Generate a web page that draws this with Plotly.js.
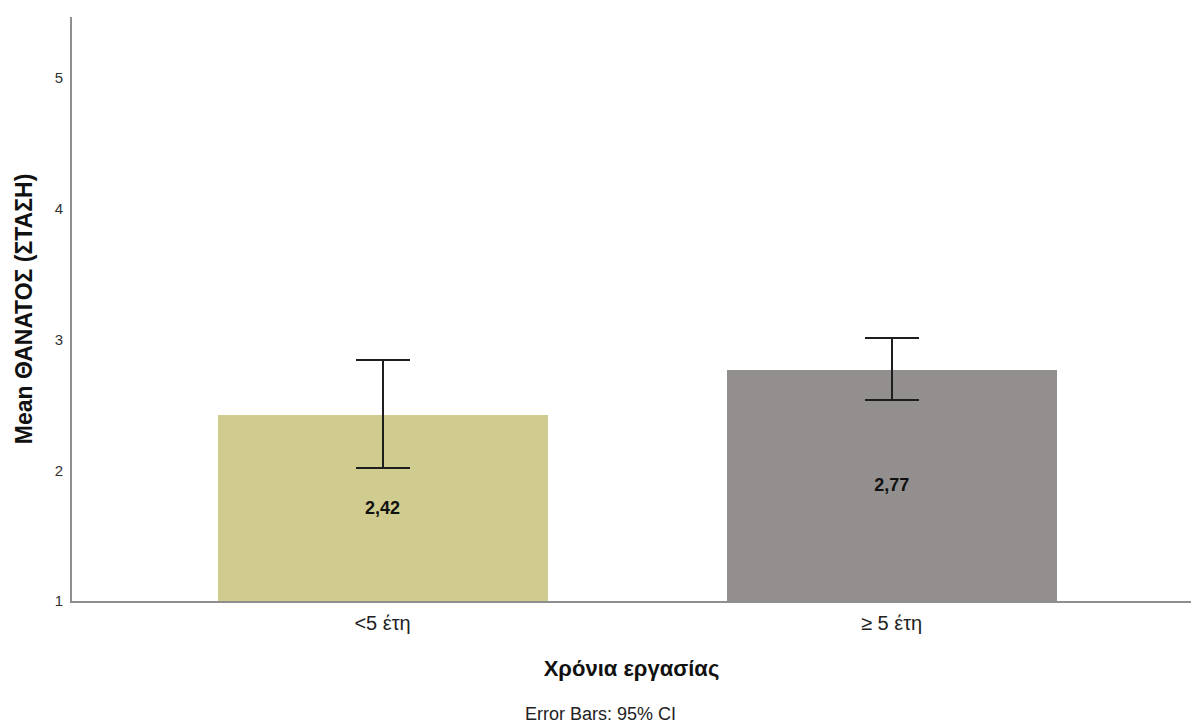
<!DOCTYPE html>
<html>
<head>
<meta charset="utf-8">
<script src="https://cdn.plot.ly/plotly-3.0.1.min.js"></script>
<style>
  html, body { margin: 0; padding: 0; background: #ffffff; }
  #chart { width: 1191px; height: 724px; }
</style>
</head>
<body>
<div id="chart"></div>
<script>
// Mean attitude score by years of work, with 95% confidence intervals
const categories = ['<5 έτη', '≥ 5 έτη'];
const means = [2.42, 2.77];
const ciUpper = [2.84, 3.01];
const ciLower = [2.02, 2.54];
const barColors = ['#d0cb8e', '#928f8e'];
const yTicks = [1, 2, 3, 4, 5];

// bars rise from the axis floor at 1
const axisFloor = 1;

const sans = '"Liberation Sans", Arial, sans-serif';

const trace = {
  type: 'bar',
  x: categories,
  base: means.map(() => axisFloor),
  y: means.map(m => m - axisFloor),
  customdata: means,
  width: 0.648,
  marker: { color: barColors, line: { width: 0 } },
  texttemplate: '%{customdata:.2f}',
  textposition: 'inside',
  insidetextanchor: 'middle',
  textangle: 0,
  textfont: { family: sans, size: 18, color: '#111111', weight: 'bold' },
  error_y: {
    type: 'data',
    symmetric: false,
    array: ciUpper.map((u, i) => u - means[i]),
    arrayminus: ciLower.map((l, i) => means[i] - l),
    color: '#1e1e1e',
    thickness: 2,
    width: 27
  },
  hoverinfo: 'x+text',
  hovertext: means.map(m => m.toFixed(2).replace('.', ','))
};

const layout = {
  width: 1191,
  height: 724,
  margin: { l: 72, r: 0, t: 17, b: 123 },
  paper_bgcolor: '#ffffff',
  plot_bgcolor: '#ffffff',
  separators: ',.',
  showlegend: false,
  bargap: 0,
  xaxis: {
    type: 'category',
    range: [-0.61, 1.588],
    showline: true,
    linecolor: '#8e8e8e',
    linewidth: 2,
    showgrid: false,
    zeroline: false,
    ticks: '',
    ticklabelstandoff: 3,
    tickfont: { family: sans, size: 20, color: '#222222' },
    title: {
      text: 'Χρόνια εργασίας',
      font: { family: sans, size: 22, color: '#111111', weight: 'bold' },
      standoff: 28
    },
    fixedrange: true
  },
  yaxis: {
    range: [1, 5.467],
    tickvals: yTicks,
    ticktext: yTicks.map(String),
    showline: true,
    linecolor: '#8e8e8e',
    linewidth: 2,
    showgrid: false,
    zeroline: false,
    ticks: '',
    ticklabelstandoff: 4,
    tickfont: { family: sans, size: 15, color: '#333333' },
    title: {
      text: 'Mean ΘΑΝΑΤΟΣ (ΣΤΑΣΗ)',
      font: { family: sans, size: 23, color: '#111111', weight: 'bold' },
      standoff: 16
    },
    fixedrange: true
  },
  annotations: [
    {
      text: 'Error Bars: 95% CI',
      xref: 'paper', yref: 'paper',
      x: 0.4727, y: -0.1935,
      xanchor: 'center', yanchor: 'middle',
      showarrow: false,
      font: { family: sans, size: 18, color: '#222222' }
    }
  ]
};

Plotly.newPlot('chart', [trace], layout, { displayModeBar: false, staticPlot: true });
</script>
</body>
</html>
